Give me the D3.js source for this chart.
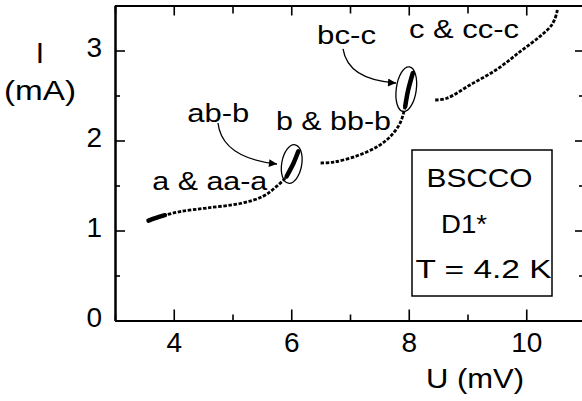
<!DOCTYPE html>
<html>
<head>
<meta charset="utf-8">
<script src="https://cdn.jsdelivr.net/npm/d3@7/dist/d3.min.js"></script>
<style>
  html, body { margin: 0; padding: 0; background: #fff; }
  svg { display: block; font-family: "Liberation Sans", Arial, Helvetica, sans-serif; }
</style>
</head>
<body>
<svg id="chart" width="582" height="401"></svg>
<script>
// I–V branches of the BSCCO stack D1* at 4.2 K (U in mV, I in mA)
const branchA_U = [3.57, 3.70, 3.85, 4.11, 4.56, 5.13, 5.52, 5.75, 5.92, 6.04, 6.12];
const branchA_I = [1.11, 1.14, 1.17, 1.21, 1.25, 1.30, 1.38, 1.49, 1.60, 1.75, 1.88];
const branchB_U = [6.50, 6.72, 7.12, 7.46, 7.68, 7.85, 7.94, 7.99, 8.07];
const branchB_I = [1.75, 1.76, 1.83, 1.93, 2.04, 2.19, 2.38, 2.56, 2.75];
const branchC_U = [8.45, 8.65, 9.05, 9.50, 9.90, 10.24, 10.44, 10.52, 10.53];
const branchC_I = [2.45, 2.47, 2.62, 2.79, 2.99, 3.16, 3.29, 3.42, 3.47];

const xTicks = [4, 6, 8, 10];
const xMinor = [3, 5, 7, 9, 11];
const yTicks = [0, 1, 2, 3];
const yMinor = [0.5, 1.5, 2.5, 3.5];

const svg = d3.select("#chart");
const plotLeft = 115, plotTop = 5.5, plotRight = 585, plotBottom = 320.5;

const x = d3.scaleLinear().domain([3, 11]).range([plotLeft, plotRight]);
const y = d3.scaleLinear().domain([0, 3.5]).range([plotBottom, plotTop]);

const g = svg.append("g");

// frame with inward ticks on all four sides
function styleAxis(sel) {
  sel.select(".domain").attr("stroke", "#000").attr("stroke-width", 2);
  sel.selectAll(".tick line").attr("stroke", "#000").attr("stroke-width", 1.6);
  sel.selectAll(".tick text").attr("fill", "#000")
     .style("font-size", "28px").style("font-family", "Liberation Sans, Arial, sans-serif");
}

g.append("g").attr("transform", `translate(0,${plotBottom})`)
  .call(d3.axisBottom(x).tickValues(xTicks).tickSize(-11).tickSizeOuter(0).tickPadding(12).tickFormat(d3.format("d")))
  .call(styleAxis);
g.append("g").attr("transform", `translate(0,${plotBottom})`)
  .call(d3.axisBottom(x).tickValues(xMinor).tickSize(-6).tickSizeOuter(0).tickFormat(""))
  .call(styleAxis);
g.append("g").attr("transform", `translate(0,${plotTop})`)
  .call(d3.axisTop(x).tickValues(xTicks).tickSize(-10).tickSizeOuter(0).tickFormat(""))
  .call(styleAxis);
g.append("g").attr("transform", `translate(0,${plotTop})`)
  .call(d3.axisTop(x).tickValues(xMinor).tickSize(-8).tickSizeOuter(0).tickFormat(""))
  .call(styleAxis);

g.append("g").attr("transform", `translate(${plotLeft},0)`)
  .call(d3.axisLeft(y).tickValues(yTicks).tickSize(-10).tickSizeOuter(0).tickPadding(13).tickFormat(d3.format("d")))
  .call(styleAxis)
  .call(s => s.selectAll(".tick text").attr("dy", "0.2em"));
g.append("g").attr("transform", `translate(${plotLeft},0)`)
  .call(d3.axisLeft(y).tickValues(yMinor).tickSize(-5).tickSizeOuter(0).tickFormat(""))
  .call(styleAxis);
g.append("g").attr("transform", `translate(${plotRight},0)`)
  .call(d3.axisRight(y).tickValues(yTicks).tickSize(-10).tickSizeOuter(0).tickFormat(""))
  .call(styleAxis);
g.append("g").attr("transform", `translate(${plotRight},0)`)
  .call(d3.axisRight(y).tickValues(yMinor).tickSize(-6).tickSizeOuter(0).tickFormat(""))
  .call(styleAxis);

// text helper: left-anchored at (tx, ty), optionally fitted to a run length
function put(parent, txt, tx, ty, size, len, anchor) {
  const t = parent.append("text").attr("x", tx).attr("y", ty).attr("fill", "#000")
    .attr("text-anchor", anchor || "start").style("font-size", size + "px").text(txt);
  if (len) t.attr("textLength", len).attr("lengthAdjust", "spacingAndGlyphs");
  return t;
}

// axis titles
put(svg, "I", 40, 63, 30, null, "middle");
put(svg, "(mA)", 4, 100, 28, 72);
put(svg, "U (mV)", 426, 388, 28, 98);

// measured branches
const line = d3.line().x(d => x(d[0])).y(d => y(d[1])).curve(d3.curveCatmullRom);
const branches = [
  { U: branchA_U, I: branchA_I, dense: [[3.5, 3.86], [5.85, 6.2]] },
  { U: branchB_U, I: branchB_I, dense: [[7.88, 8.2]] },
  { U: branchC_U, I: branchC_I, dense: [] }
];
const pts = b => b.U.map((u, i) => [u, b.I[i]]);
branches.forEach(b => {
  const p = pts(b);
  g.append("path").attr("d", line(p)).attr("fill", "none")
    .attr("stroke", "#000").attr("stroke-width", 2.8).attr("stroke-dasharray", "3.5 1.6");
  b.dense.forEach(r => {
    const sub = p.filter(d => d[0] >= r[0] && d[0] <= r[1]);
    g.append("path").attr("d", line(sub)).attr("fill", "none")
      .attr("stroke", "#000").attr("stroke-width", 4.5).attr("stroke-linecap", "round");
  });
});

// switching regions
const ellipses = [
  { U: 6.008, I: 1.739, rx: 10, ry: 19.5, rot: 10 },
  { U: 7.958, I: 2.570, rx: 10, ry: 22.5, rot: 8 }
];
ellipses.forEach(e => {
  g.append("ellipse").attr("cx", 0).attr("cy", 0).attr("rx", e.rx).attr("ry", e.ry)
    .attr("transform", `translate(${x(e.U)},${y(e.I)}) rotate(${e.rot})`)
    .attr("fill", "none").attr("stroke", "#000").attr("stroke-width", 1.3);
});

// arrows from the transition labels
svg.append("defs").append("marker").attr("id", "head")
  .attr("viewBox", "0 0 10 10").attr("refX", 10).attr("refY", 5)
  .attr("markerWidth", 12).attr("markerHeight", 8).attr("markerUnits", "userSpaceOnUse")
  .attr("orient", "auto")
  .append("path").attr("d", "M0,0 L10,5 L0,10 z").attr("fill", "#000");

const arrows = [
  { from: [4.753, 2.194], via: [4.821, 1.806], to: [5.757, 1.739] },
  { from: [6.881, 3.017], via: [6.966, 2.672], to: [7.783, 2.639] }
];
arrows.forEach(a => {
  const p = d3.path();
  p.moveTo(x(a.from[0]), y(a.from[1]));
  p.quadraticCurveTo(x(a.via[0]), y(a.via[1]), x(a.to[0]), y(a.to[1]));
  g.append("path").attr("d", p.toString()).attr("fill", "none")
    .attr("stroke", "#000").attr("stroke-width", 1.3).attr("marker-end", "url(#head)");
});

// branch labels
const labels = [
  { t: "a & aa-a", U: 3.635, I: 1.45, len: 115 },
  { t: "ab-b", U: 4.23, I: 2.209, len: 62 },
  { t: "b & bb-b", U: 5.74, I: 2.117, len: 115 },
  { t: "bc-c", U: 6.44, I: 3.072, len: 59 },
  { t: "c & cc-c", U: 8.005, I: 3.136, len: 110 }
];
labels.forEach(l => put(g, l.t, x(l.U), y(l.I), 25, l.len));

// sample box
g.append("rect").attr("x", 412).attr("y", 150).attr("width", 140).attr("height", 146)
  .attr("fill", "#fff").attr("stroke", "#000").attr("stroke-width", 1.5);
put(g, "BSCCO", 426.5, 186.7, 26, 106);
put(g, "D1*", 441, 233.3, 26, 46);
put(g, "T = 4.2 K", 415.5, 278.3, 26, 136);
</script>
</body>
</html>
